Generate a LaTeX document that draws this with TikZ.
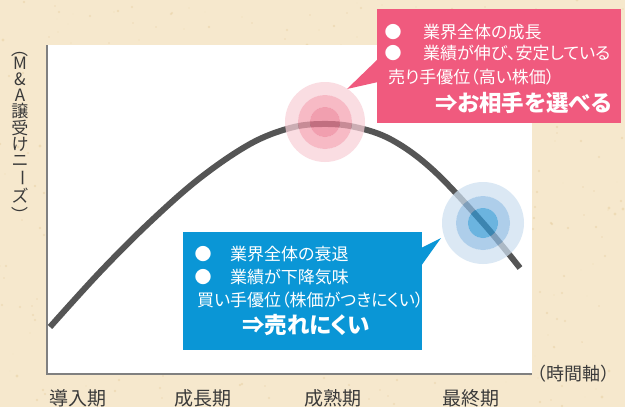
\documentclass[tikz,border=0pt]{standalone}
\usepackage{fontspec}
\setmainfont[RawFeature=+palt]{Noto Sans CJK JP}
\newfontfamily\cjkfull{Noto Sans CJK JP}
\definecolor{bgbeige}{HTML}{F6E8CD}
\definecolor{speck}{HTML}{E6CC9C}
\definecolor{axisgray}{HTML}{808080}
\definecolor{curvegray}{HTML}{555555}
\definecolor{pinkbox}{HTML}{F05A7E}
\definecolor{bluebox}{HTML}{0A96D6}
\definecolor{labgray}{HTML}{3A3A3A}
\definecolor{pinkA}{RGB}{249,208,216}
\definecolor{pinkB}{RGB}{244,160,176}
\definecolor{pinkC}{RGB}{236,122,145}
\definecolor{blueA}{RGB}{206,224,241}
\definecolor{blueB}{RGB}{144,188,227}
\definecolor{blueC}{RGB}{51,152,212}
\tikzset{
  txt/.style={text=white, inner sep=0pt, anchor=west, font=\fontsize{17}{20}\selectfont},
  bigtxt/.style={text=white, inner sep=0pt, anchor=west, font=\fontsize{22.5}{26}\selectfont\bfseries},
  bul/.style={text=white, inner sep=0pt, font=\cjkfull\fontsize{17}{20}\selectfont},
  lab/.style={text=labgray, inner sep=0pt, font=\fontsize{19}{22}\selectfont},
  vlab/.style={text=labgray, inner sep=0pt, text height=11pt, text depth=0pt, font=\fontsize{17}{18}\selectfont},
  vrot/.style={text=labgray, inner sep=0pt, rotate=-90, font=\cjkfull\fontsize{17}{18}\selectfont},
  axisline/.style={draw=axisgray, line width=2.6pt},
  ring/.style={opacity=0.72, even odd rule}
}
\begin{document}
\begin{tikzpicture}[x=1pt,y=-1pt]
\useasboundingbox (0,0) rectangle (625,407);
% background
\fill[bgbeige] (0,0) rectangle (625,407);
\pgfmathsetseed{7}
\foreach \i in {1,...,500}{
  \pgfmathsetmacro{\rx}{random(0,625)}
  \pgfmathsetmacro{\ry}{random(0,407)}
  \pgfmathsetmacro{\rr}{0.4+1.2*rnd}
  \fill[speck, opacity=0.45] (\rx,\ry) circle[radius=\rr pt];
}
% plot area
\fill[white] (47,45) rectangle (532,374);
\draw[axisline] (47,45) -- (47,374) -- (532,374);
% curve
\draw[curvegray, line width=6pt] plot[smooth, tension=0.6] coordinates
  {(50,327) (100,272) (150,222) (200,178) (250,144) (290,128) (322,124) (355,127) (392,140) (433,170) (483,223) (520,268)};
% pink circles
\coordinate (pc) at (325,122);
\fill[pinkA, ring] (pc) circle[radius=40pt] (pc) circle[radius=27pt];
\fill[pinkB, ring] (pc) circle[radius=27pt] (pc) circle[radius=15pt];
\fill[pinkC, opacity=0.72] (pc) circle[radius=15pt];
% blue circles
\coordinate (bc) at (483,223);
\fill[blueA, ring] (bc) circle[radius=41pt] (bc) circle[radius=27pt];
\fill[blueB, ring] (bc) circle[radius=27pt] (bc) circle[radius=15pt];
\fill[blueC, opacity=0.72] (bc) circle[radius=15pt];
% pink callout
\fill[pinkbox] (377,9) rectangle (621,123);
\fill[pinkbox] (378,59) -- (347,89) -- (378,82) -- cycle;
\node[bul] (pb1) at (393,32) {●};
\node[txt] (pt1) at (423,32) {業界全体の成長};
\node[bul] (pb2) at (393,53) {●};
\node[txt] (pt2) at (423,53) {業績が伸び、安定している};
\node[txt] (pt3) at (388,77) {売り手優位（高い株価）};
\node[bigtxt] (pt4) at (435,103) {⇒お相手を選べる};
% blue callout
\fill[bluebox] (183,232) rectangle (422,350);
\fill[bluebox] (421,248) -- (441,238) -- (421,266) -- cycle;
\node[bul] (bb1) at (203,254) {●};
\node[txt] (bt1) at (230,254) {業界全体の衰退};
\node[bul] (bb2) at (203,277) {●};
\node[txt] (bt2) at (230,277) {業績が下降気味};
\node[txt] (bt3) at (197,300) {買い手優位（株価がつきにくい）};
\node[bigtxt] (bt4) at (242,325) {⇒売れにくい};
% x labels
\node[lab] (l1) at (77.5,398) {導入期};
\node[lab] (l2) at (203,398) {成長期};
\node[lab] (l3) at (332.5,398) {成熟期};
\node[lab] (l4) at (470.5,398) {最終期};
\node[text=labgray, inner sep=0pt, anchor=west, font=\cjkfull\fontsize{18}{20}\selectfont] (tx) at (528,374) {（時間軸）};
% y label (vertical)
\node[vrot] (v0) at (20,49) {（};
\node[vlab] (v1) at (20,64) {M};
\node[vlab] (v2) at (20,80) {\&};
\node[vlab] (v3) at (20,96) {A};
\node[vlab] (v4) at (20,112) {譲};
\node[vlab] (v5) at (20,129) {受};
\node[vlab] (v6) at (20,145) {け};
\node[vlab] (v7) at (20,161) {ニ};
\node[vrot] (v8) at (20,178) {ー};
\node[vlab] (v9) at (20,197) {ズ};
\node[vrot] (v10) at (20,215) {）};
\end{tikzpicture}
\end{document}
